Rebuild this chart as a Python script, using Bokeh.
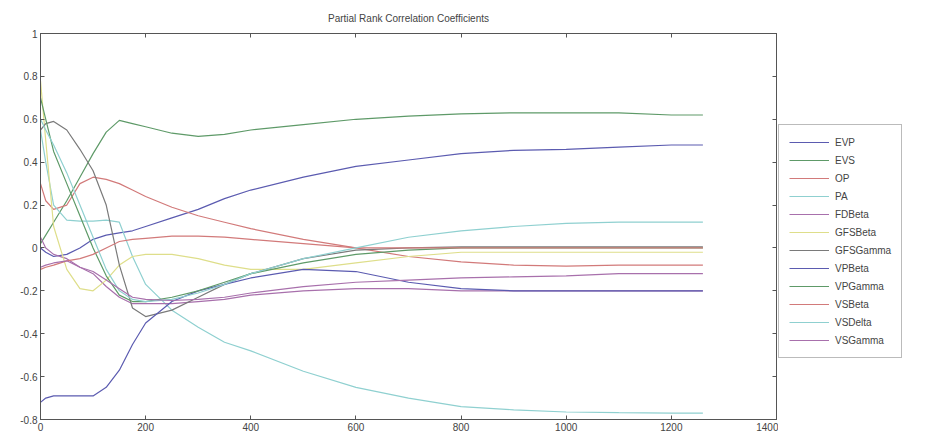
from bokeh.plotting import figure
from bokeh.models import Legend, LegendItem, LinearAxis, FixedTicker, Range1d
from bokeh.layouts import row
from bokeh.embed import file_html
from bokeh.resources import INLINE

# Sample positions (simulation count) and estimated coefficient values
x_vals = [0, 10, 25, 50, 75, 100, 125, 150, 175, 200, 250, 300, 350, 400,
          500, 600, 700, 800, 900, 1000, 1100, 1200, 1260]

EVP = [0.0, -0.02, -0.04, -0.03, 0.0, 0.04, 0.06, 0.07, 0.08, 0.1, 0.14, 0.18, 0.23, 0.27,
       0.33, 0.38, 0.41, 0.44, 0.455, 0.46, 0.47, 0.48, 0.48]
EVS = [0.02, 0.06, 0.12, 0.22, 0.33, 0.44, 0.54, 0.595, 0.58, 0.565, 0.535, 0.52, 0.53, 0.55,
       0.575, 0.6, 0.615, 0.625, 0.63, 0.63, 0.63, 0.62, 0.62]
OP = [0.3, 0.22, 0.18, 0.2, 0.3, 0.33, 0.32, 0.3, 0.27, 0.24, 0.19, 0.15, 0.12, 0.09,
      0.04, 0.0, -0.04, -0.065, -0.08, -0.085, -0.08, -0.08, -0.08]
PA = [0.55, 0.4, 0.2, 0.13, 0.125, 0.125, 0.13, 0.12, -0.04, -0.17, -0.29, -0.37, -0.44, -0.48,
      -0.575, -0.65, -0.7, -0.74, -0.755, -0.765, -0.768, -0.77, -0.77]
FDBeta = [0.05, 0.0, -0.03, -0.05, -0.09, -0.12, -0.18, -0.23, -0.26, -0.26, -0.26, -0.25, -0.24, -0.22,
          -0.2, -0.19, -0.19, -0.2, -0.2, -0.2, -0.2, -0.2, -0.2]
GFSBeta = [0.78, 0.5, 0.1, -0.1, -0.19, -0.2, -0.15, -0.08, -0.04, -0.03, -0.03, -0.05, -0.08, -0.1,
           -0.1, -0.07, -0.04, -0.02, -0.02, -0.02, -0.02, -0.02, -0.02]
GFSGamma = [0.55, 0.58, 0.59, 0.55, 0.46, 0.36, 0.2, -0.08, -0.28, -0.32, -0.29, -0.23, -0.17, -0.12,
            -0.05, -0.01, 0.0, 0.005, 0.005, 0.005, 0.005, 0.005, 0.005]
VPBeta = [-0.72, -0.7, -0.69, -0.69, -0.69, -0.69, -0.65, -0.57, -0.45, -0.35, -0.25, -0.2, -0.17, -0.14,
          -0.1, -0.11, -0.16, -0.19, -0.2, -0.2, -0.2, -0.2, -0.2]
VPGamma = [0.7, 0.6, 0.45, 0.3, 0.15, 0.0, -0.13, -0.22, -0.25, -0.25, -0.23, -0.2, -0.16, -0.12,
           -0.07, -0.03, -0.01, 0.0, 0.0, 0.0, 0.0, 0.0, 0.0]
VSBeta = [-0.1, -0.09, -0.08, -0.06, -0.05, -0.03, 0.0, 0.03, 0.04, 0.045, 0.055, 0.055, 0.05, 0.04,
          0.02, 0.0, 0.0, 0.0, 0.0, 0.0, 0.0, 0.0, 0.0]
VSDelta = [0.6, 0.55, 0.48, 0.35, 0.2, 0.05, -0.1, -0.2, -0.24, -0.25, -0.24, -0.21, -0.17, -0.12,
           -0.05, 0.0, 0.05, 0.08, 0.1, 0.115, 0.12, 0.12, 0.12]
VSGamma = [-0.09, -0.08, -0.07, -0.06, -0.09, -0.11, -0.15, -0.19, -0.23, -0.24, -0.245, -0.24, -0.23, -0.21,
           -0.18, -0.16, -0.15, -0.14, -0.135, -0.13, -0.12, -0.12, -0.12]

names = ["EVP", "EVS", "OP", "PA", "FDBeta", "GFSBeta", "GFSGamma",
         "VPBeta", "VPGamma", "VSBeta", "VSDelta", "VSGamma"]
series = [EVP, EVS, OP, PA, FDBeta, GFSBeta, GFSGamma,
          VPBeta, VPGamma, VSBeta, VSDelta, VSGamma]
palette = ["#5b5bb0", "#5e9a68", "#d27a7a", "#8fd0d0", "#a870ac", "#dede8a", "#7a7a7a"]

x_ticks = [0, 200, 400, 600, 800, 1000, 1200, 1400]
y_ticks = [-0.8, -0.6, -0.4, -0.2, 0, 0.2, 0.4, 0.6, 0.8, 1]
y_labels = ["-0.8", "-0.6", "-0.4", "-0.2", "0", "0.2", "0.4", "0.6", "0.8", "1"]

FONT = "Liberation Sans"
TXT = "#444444"

p = figure(width=778, height=445, output_backend="svg", toolbar_location=None,
           x_range=Range1d(0, 1400), y_range=Range1d(-0.8, 1),
           title="Partial Rank Correlation Coefficients",
           min_border_left=40, min_border_right=2, min_border_top=33, min_border_bottom=26)
p.title.align = "center"
p.title.text_font = FONT
p.title.text_font_size = "10px"
p.title.text_font_style = "normal"
p.title.text_color = TXT
p.title.standoff = 20
p.grid.visible = False
p.outline_line_color = "#555555"
p.background_fill_color = "white"
p.border_fill_color = "white"

def style_axis(ax, show_labels):
    ax.axis_line_color = "#555555"
    ax.major_tick_in = 4
    ax.major_tick_out = 0
    ax.minor_tick_line_color = None
    ax.major_tick_line_color = "#555555"
    ax.major_label_text_font = FONT
    ax.major_label_text_font_size = "10px"
    ax.major_label_text_color = TXT
    ax.major_label_standoff = 3
    if not show_labels:
        ax.major_label_standoff = 0
        ax.major_label_text_font_size = "1px"

p.xaxis.ticker = FixedTicker(ticks=x_ticks)
p.yaxis.ticker = FixedTicker(ticks=y_ticks)
p.yaxis.major_label_overrides = {t: l for t, l in zip(y_ticks, y_labels)}
style_axis(p.xaxis[0], True)
style_axis(p.yaxis[0], True)

top_ax = LinearAxis(ticker=FixedTicker(ticks=x_ticks),
                    major_label_overrides={t: "" for t in x_ticks})
right_ax = LinearAxis(ticker=FixedTicker(ticks=y_ticks),
                      major_label_overrides={t: "" for t in y_ticks})
style_axis(top_ax, False)
style_axis(right_ax, False)
p.add_layout(top_ax, "above")
p.add_layout(right_ax, "right")

for i, ys in enumerate(series):
    p.line(x_vals[:len(ys)], ys, line_color=palette[i % 7], line_width=1.2)

# Legend panel: a separate figure to the right of the axes box; its own copies
# of the series lie outside its visible range, so only the legend shows.
lg = figure(width=153, height=445, output_backend="svg", toolbar_location=None,
            x_range=Range1d(-20, -10), y_range=Range1d(0, 1),
            x_axis_type=None, y_axis_type=None,
            min_border_left=0, min_border_right=0, min_border_top=0, min_border_bottom=0)
lg.outline_line_color = None
lg.grid.visible = False
lg.border_fill_color = None
lg.background_fill_color = None
items = []
for i, (nm, ys) in enumerate(zip(names, series)):
    r = lg.line(x_vals[:len(ys)], ys, line_color=palette[i % 7], line_width=1.2)
    items.append(LegendItem(label=nm, renderers=[r]))

legend = Legend(items=items, location=(0, 61), margin=0)
legend.label_text_font = FONT
legend.label_text_font_size = "10px"
legend.label_text_color = TXT
legend.glyph_width = 40
legend.glyph_height = 14
legend.label_height = 14
legend.spacing = 4
legend.padding = 10
legend.label_standoff = 6
legend.border_line_color = "#777777"
legend.border_line_width = 1
legend.background_fill_color = "white"
legend.background_fill_alpha = 1
lg.add_layout(legend)

layout = row(p, lg)
open("out.html", "w").write(file_html(layout, INLINE))
